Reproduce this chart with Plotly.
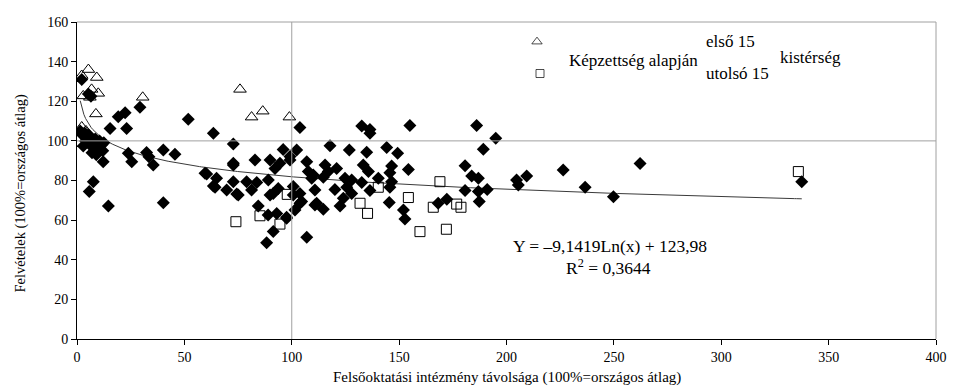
import numpy as np
import plotly.graph_objects as go

# ---- data ----
tri_x = [2.2, 5.3, 9.2, 6.8, 9.9, 2.9, 8.8, 30.6, 75.9, 81.3, 86.5, 98.9, 2.2, 4.2, 6.0]
tri_y = [133, 136, 132, 126, 124, 122.7, 113.6, 122, 126, 112, 115, 112, 107, 105, 122]

sq_x = [74, 85.2, 94.5, 97.9, 131.8, 135.3, 140.3, 154.3, 159.7, 165.9, 169, 172, 176.8, 178.8, 335.9]
sq_y = [59.2, 62.2, 58, 73, 68.5, 63.4, 76.6, 71.4, 54.2, 66.5, 79.4, 55.4, 68.1, 66.5, 84.5]

dia_x = [2.2, 5.3, 6.5, 29.3, 22.4, 19.2, 51.8, 15.4, 23.1,
         1.5, 2.5, 3.5, 4.5, 5.5, 6.5, 7.5, 8.5, 9.5, 10.5, 11.5, 12.5, 4, 6, 8, 10, 12, 7, 9,
         2.9, 9.2, 12.2, 23.9, 25.5, 32.4, 33.5, 35.5, 40.2, 45.6,
         7.6, 5.7, 14.6, 40.2,
         63.5, 72.8, 103.8,
         60.4, 65, 63.5, 69.7, 74.4, 72.8, 72.8, 79, 81.3, 82.9, 83.7, 89.1, 89.9, 94.5, 93.7,
         91.4, 99.2, 100.7, 103.8, 101.5, 97.6, 93, 84.4, 91.4, 88.3, 107, 107, 103.8,
         96, 102.3, 99.2, 92.2, 59.6, 64.3, 75.1, 89.9, 100.7, 104.6, 97.6, 110.8, 109.3,
         110.8, 107.7, 89, 72.8,
         132.6, 136.4, 136.4, 155, 117.8, 126.8, 134.9, 144.2, 149.3, 115.5, 120.9, 117,
         133.3, 135.7, 146.5, 154.3, 145.7, 110, 114.7, 124.8, 127.9, 132.6, 140.3, 146.5,
         120.1, 125.6, 127.9, 124, 136.4, 145.7, 111.6, 114.7, 122.5, 145.4, 152, 152.7, 168.2,
         186.1, 195, 189.2, 180.7, 183.8, 186.9, 226.4, 262.2, 209.4, 204.7, 205.5, 236.6,
         249.8, 180.7, 186.9, 191, 172.2, 187.3, 337.5]
dia_y = [131, 123.7, 122.5, 117, 114.2, 112.2, 110.9, 106.3, 106.3,
         105, 103, 104, 102, 103, 101, 100, 101, 99, 100, 98, 99, 100, 98, 97, 96, 95, 94, 93,
         97.4, 96.2, 89.5, 93.7, 89.5, 94.1, 92, 87.8, 95.4, 93.3,
         79.4, 74.4, 67.1, 68.8,
         103.8, 98.4, 106.8,
         83.3, 81.1, 77.2, 75.2, 73.2, 87.8, 79.4, 79.4, 75.2, 90.4, 79, 80.3, 90.4, 88.7, 76,
         73.5, 90.4, 77, 68.5, 65.1, 60.9, 63.4, 67.1, 54.2, 48.6, 51.3, 89.5, 73.5,
         95.7, 95.4, 92.1, 86.1, 83.6, 76.6, 72.7, 72.7, 72.7, 69.4, 61.5, 67.6, 81.1,
         75.2, 84.5, 62.6, 88.7,
         107.5, 105.8, 103.8, 107.7, 97.6, 95.4, 94.2, 96.7, 93.7, 87.8, 86.1, 84.5,
         87.8, 84.5, 87.3, 85.6, 83.9, 82.8, 81.6, 81.1, 80.3, 79, 81.1, 79.4,
         75.5, 76.6, 73.5, 71, 74.9, 76.6, 68.5, 65.5, 67.1, 68.9, 65.1, 60.6, 68.5,
         107.7, 101.3, 95.8, 87.5, 82.3, 81.1, 85.3, 88.6, 82.3, 80.3, 77.7, 76.6,
         71.8, 74.9, 74.4, 75.5, 70.5, 69.4, 79.4]

# logarithmic trendline stated on the chart: Y = a*ln(x) + b
trend_a = -9.1419
trend_b = 123.98
trend_r2 = "0,3644"

x_ticks = [0, 50, 100, 150, 200, 250, 300, 350, 400]
y_ticks = [0, 20, 40, 60, 80, 100, 120, 140, 160]

x_title = "Felsőoktatási intézmény távolsága (100%=országos átlag)"
y_title = "Felvételek (100%=országos átlag)"

FONT = "Liberation Serif"

fig = go.Figure()

# trendline from the stated coefficients, over the range of the data
all_x = np.array(dia_x + tri_x + sq_x)
tx = np.linspace(all_x.min(), all_x.max(), 400)
ty = trend_a * np.log(tx) + trend_b
fig.add_trace(go.Scatter(x=tx, y=ty, mode="lines",
                         line=dict(color="#3a3a3a", width=1), hoverinfo="skip"))

fig.add_trace(go.Scatter(x=dia_x, y=dia_y, mode="markers",
                         marker=dict(symbol="diamond", size=10, color="black",
                                     line=dict(width=0))))
fig.add_trace(go.Scatter(x=tri_x, y=tri_y, mode="markers",
                         marker=dict(symbol="triangle-up-open", size=11, color="black",
                                     line=dict(width=1))))
fig.add_trace(go.Scatter(x=sq_x, y=sq_y, mode="markers",
                         marker=dict(symbol="square-open", size=10, color="black",
                                     line=dict(width=1))))

# legend glyphs on an overlay axis in plot-fraction units
leg_sym = ["triangle-up-open", "square-open"]
leg_pos_x = [0.5355, 0.539]
leg_pos_y = [0.938, 0.8375]
fig.add_trace(go.Scatter(x=leg_pos_x, y=leg_pos_y, xaxis="x2", yaxis="y2", mode="markers",
                         marker=dict(symbol=leg_sym, size=[9, 8], color="black",
                                     line=dict(width=1)), hoverinfo="skip"))

# reference lines at the national average
fig.add_shape(type="line", x0=100, x1=100, y0=0, y1=160, xref="x", yref="y",
              line=dict(color="#a0a0a0", width=1))
fig.add_shape(type="line", x0=0, x1=400, y0=100, y1=100, xref="x", yref="y",
              line=dict(color="#a0a0a0", width=1))
# plot-area border (top and right)
fig.add_shape(type="line", x0=0, x1=1, y0=1, y1=1, xref="paper", yref="paper",
              line=dict(color="#a0a0a0", width=1))
fig.add_shape(type="line", x0=1, x1=1, y0=0, y1=1, xref="paper", yref="paper",
              line=dict(color="#a0a0a0", width=1))

ann_font = dict(family=FONT, size=17, color="black")
fig.add_annotation(xref="paper", yref="paper", x=0.730, y=0.938, xanchor="left",
                   yanchor="middle", text="első 15", showarrow=False, font=ann_font)
fig.add_annotation(xref="paper", yref="paper", x=0.570, y=0.877, xanchor="left",
                   yanchor="middle", text="Képzettség alapján", showarrow=False, font=ann_font)
fig.add_annotation(xref="paper", yref="paper", x=0.816, y=0.888, xanchor="left",
                   yanchor="middle", text="kistérség", showarrow=False, font=ann_font)
fig.add_annotation(xref="paper", yref="paper", x=0.730, y=0.836, xanchor="left",
                   yanchor="middle", text="utolsó 15", showarrow=False, font=ann_font)

eq_text = f"Y = –{abs(trend_a):.4f}Ln(x) + {trend_b:.2f}".replace(".", ",")
fig.add_annotation(xref="paper", yref="paper", x=0.621, y=0.292, xanchor="center",
                   yanchor="middle", text=eq_text, showarrow=False,
                   font=dict(family=FONT, size=17.5, color="black"))
fig.add_annotation(xref="paper", yref="paper", x=0.619, y=0.228, xanchor="center",
                   yanchor="middle", text=f"R<sup>2</sup> = {trend_r2}", showarrow=False,
                   font=dict(family=FONT, size=17.5, color="black"))

# axis titles
fig.add_annotation(xref="paper", yref="paper", x=0.5, y=-0.123, xanchor="center",
                   yanchor="middle", text=x_title, showarrow=False,
                   font=dict(family=FONT, size=15, color="black"))
fig.add_annotation(xref="paper", yref="paper", x=-0.066, y=0.46, xanchor="center",
                   yanchor="middle", text=y_title, showarrow=False, textangle=-90,
                   font=dict(family=FONT, size=14.5, color="black"))

tick_font = dict(family=FONT, size=14, color="black")
fig.update_layout(
    width=953, height=387,
    margin=dict(l=77, r=17, t=22, b=48, autoexpand=False),
    paper_bgcolor="white", plot_bgcolor="white",
    showlegend=False,
    font=dict(family=FONT, size=14, color="black"),
    xaxis=dict(range=[0, 400], tickvals=x_ticks, ticks="outside", ticklen=5,
               tickcolor="black", showline=True, linecolor="black", linewidth=1,
               showgrid=False, zeroline=False, tickfont=tick_font, automargin=False),
    yaxis=dict(range=[0, 160], tickvals=y_ticks, ticks="outside", ticklen=5,
               tickcolor="black", showline=True, linecolor="black", linewidth=1,
               showgrid=False, zeroline=False, tickfont=tick_font, automargin=False),
    xaxis2=dict(range=[0, 1], overlaying="x", visible=False, fixedrange=True),
    yaxis2=dict(range=[0, 1], overlaying="y", visible=False, fixedrange=True),
)

fig.write_html("out.html", config={"displayModeBar": False},
               post_script="document.body.style.margin='0px';document.body.style.overflow='hidden';")
